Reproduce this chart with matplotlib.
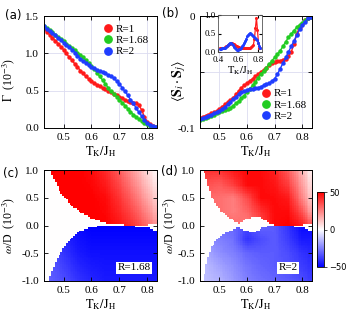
import numpy as np
import matplotlib
matplotlib.use("Agg")
from matplotlib import pyplot as plt

plt.rcParams['font.family'] = ['Liberation Serif', 'DejaVu Serif']
plt.rcParams['mathtext.fontset'] = 'stix'

# ---- data ----
t = [0.43, 0.44, 0.45, 0.46, 0.47, 0.48, 0.49, 0.50, 0.51, 0.52, 0.53, 0.54, 0.55, 0.56,
     0.57, 0.58, 0.59, 0.60, 0.61, 0.62, 0.63, 0.64, 0.65, 0.66, 0.67, 0.68, 0.69, 0.70,
     0.71, 0.72, 0.73, 0.74, 0.75, 0.76, 0.77, 0.78, 0.79, 0.80, 0.81, 0.82, 0.83]

# panel (a): Gamma (1e-3)
gam_r1 = [1.33, 1.29, 1.25, 1.21, 1.17, 1.13, 1.09, 1.05, 1.00, 0.95, 0.91, 0.86, 0.82, 0.77,
          0.73, 0.69, 0.66, 0.63, 0.60, 0.58, 0.56, 0.54, 0.52, 0.50, 0.48, 0.46, 0.44, 0.42,
          0.40, 0.38, 0.36, 0.35, 0.34, 0.34, 0.31, 0.24, 0.15, 0.08, 0.05, 0.03, 0.02]
gam_r168 = [1.37, 1.34, 1.31, 1.28, 1.25, 1.22, 1.19, 1.16, 1.13, 1.10, 1.07, 1.04, 1.01, 0.98,
            0.95, 0.91, 0.87, 0.83, 0.79, 0.74, 0.69, 0.64, 0.59, 0.54, 0.49, 0.46, 0.42, 0.38,
            0.34, 0.30, 0.26, 0.22, 0.18, 0.15, 0.12, 0.09, 0.07, 0.05, 0.03, 0.02, 0.01]
gam_r2 = [1.37, 1.33, 1.30, 1.27, 1.24, 1.21, 1.18, 1.14, 1.11, 1.08, 1.05, 1.01, 0.97, 0.93,
          0.90, 0.87, 0.84, 0.82, 0.80, 0.78, 0.76, 0.75, 0.73, 0.71, 0.69, 0.67, 0.63, 0.59,
          0.54, 0.49, 0.44, 0.38, 0.33, 0.27, 0.21, 0.16, 0.11, 0.07, 0.04, 0.03, 0.02]

# panel (b): <Si.Sj>
ss_r1 = [-0.091, -0.090, -0.089, -0.088, -0.087, -0.086, -0.085, -0.083, -0.081, -0.079,
         -0.077, -0.075, -0.073, -0.070, -0.067, -0.064, -0.062, -0.060, -0.058, -0.056,
         -0.054, -0.052, -0.050, -0.048, -0.046, -0.044, -0.042, -0.041, -0.040, -0.040,
         -0.039, -0.038, -0.036, -0.032, -0.025, -0.016, -0.010, -0.007, -0.004, -0.002, -0.001]
ss_r168 = [-0.093, -0.092, -0.091, -0.090, -0.089, -0.088, -0.087, -0.086, -0.085, -0.084,
           -0.083, -0.082, -0.080, -0.078, -0.076, -0.073, -0.071, -0.068, -0.065, -0.062,
           -0.059, -0.055, -0.052, -0.049, -0.046, -0.043, -0.040, -0.037, -0.034, -0.031,
           -0.027, -0.023, -0.019, -0.016, -0.013, -0.010, -0.008, -0.006, -0.004, -0.002, -0.001]
ss_r2 = [-0.092, -0.091, -0.090, -0.089, -0.088, -0.087, -0.086, -0.085, -0.083, -0.081,
         -0.079, -0.077, -0.074, -0.072, -0.070, -0.068, -0.067, -0.066, -0.065, -0.065,
         -0.064, -0.064, -0.063, -0.062, -0.061, -0.060, -0.058, -0.056, -0.052, -0.047,
         -0.042, -0.037, -0.032, -0.027, -0.022, -0.017, -0.012, -0.008, -0.005, -0.002, -0.001]

# inset of (b)
t_in = [0.42, 0.43, 0.44, 0.45, 0.46, 0.47, 0.48, 0.49, 0.50, 0.51, 0.52, 0.53, 0.54, 0.55,
        0.56, 0.57, 0.58, 0.59, 0.60, 0.61, 0.62, 0.63, 0.64, 0.65, 0.66, 0.67, 0.68, 0.69,
        0.70, 0.71, 0.72, 0.73, 0.74, 0.75, 0.76, 0.77, 0.78, 0.79, 0.80, 0.81, 0.82]
in_r1 = [0.10, 0.10, 0.10, 0.11, 0.12, 0.13, 0.15, 0.17, 0.19, 0.21, 0.22, 0.23, 0.23, 0.22,
         0.21, 0.19, 0.17, 0.15, 0.14, 0.13, 0.12, 0.12, 0.11, 0.11, 0.10, 0.10, 0.10, 0.10,
         0.10, 0.11, 0.12, 0.13, 0.15, 0.20, 0.35, 0.65, 0.92, 0.60, 0.25, 0.12, 0.10]
in_r2 = [0.08, 0.09, 0.10, 0.10, 0.11, 0.12, 0.14, 0.16, 0.19, 0.22, 0.25, 0.25, 0.22, 0.18,
         0.14, 0.11, 0.07, 0.06, 0.06, 0.07, 0.08, 0.12, 0.15, 0.19, 0.24, 0.30, 0.36, 0.42,
         0.47, 0.50, 0.51, 0.50, 0.47, 0.43, 0.40, 0.38, 0.36, 0.33, 0.25, 0.15, 0.10]

# heat maps: gap edges (omega/D, 1e-3) and colour levels on a coarse grid
c_edge_x = [0.43, 0.45, 0.47, 0.49, 0.52, 0.555, 0.60, 0.66, 0.73, 0.80, 0.84]
c_top = [1.3, 1.0, 0.78, 0.58, 0.40, 0.25, 0.13, 0.04, 0.01, 0.01, 0.05]
c_bot = [-1.3, -0.92, -0.66, -0.46, -0.25, -0.11, -0.02, -0.005, -0.005, -0.03, -0.11]

d_edge_x = [0.43, 0.44, 0.452, 0.47, 0.50, 0.536, 0.57, 0.59, 0.62, 0.637, 0.655, 0.68,
            0.70, 0.80, 0.84]
d_top = [1.3, 1.0, 0.82, 0.52, 0.28, 0.13, 0.04, 0.10, 0.16, 0.17, 0.13, 0.04, 0.01, 0.01, 0.05]
d_bot = [-1.3, -1.0, -0.62, -0.38, -0.20, -0.10, -0.03, -0.09, -0.14, -0.10, -0.04, -0.01,
         -0.005, -0.02, -0.12]

lev_x = [0.43, 0.5, 0.55, 0.6, 0.65, 0.7, 0.75, 0.8, 0.83]
c_red_y = [0.0, 0.5, 1.0]
c_red = [[50, 50, 50, 50, 50, 46, 40, 30, 22],
         [50, 50, 50, 50, 48, 40, 30, 18, 10],
         [50, 50, 50, 48, 42, 32, 20, 8, 2]]
c_blue_y = [-1.0, -0.5, 0.0]
c_blue = [[-30, -35, -40, -43, -45, -45, -45, -45, -45],
          [-30, -40, -45, -47, -47, -47, -47, -47, -47],
          [-40, -45, -48, -50, -50, -50, -50, -50, -50]]

d_red_y = [0.0, 0.25, 0.5, 0.75, 1.0]
d_red = [[30, 30, 30, 25, 35, 48, 50, 45, 35],
         [30, 28, 25, 30, 40, 48, 48, 35, 20],
         [30, 28, 25, 35, 48, 48, 45, 25, 12],
         [35, 32, 38, 48, 48, 46, 38, 20, 8],
         [40, 40, 45, 48, 48, 44, 32, 15, 4]]
d_blue_y = [-1.0, -0.75, -0.5, -0.25, 0.0]
d_blue = [[-12, -15, -20, -25, -28, -30, -32, -35, -38],
          [-12, -18, -22, -27, -30, -32, -34, -38, -40],
          [-15, -22, -25, -30, -32, -32, -35, -40, -42],
          [-20, -25, -28, -40, -35, -32, -38, -45, -45],
          [-25, -28, -30, -35, -30, -32, -40, -48, -48]]

labels = ['R=1', 'R=1.68', 'R=2']
colors = ['#ff1a1a', '#22cc22', '#1f3dff']


def grid_levels(gx, gy, vals, xs, ys):
    rows = np.array([np.interp(xs, gx, r) for r in vals])
    return np.array([np.interp(ys, gy, rows[:, j]) for j in range(len(xs))]).T


def spectral_map(edge_x, top, bot, red_y, red, blue_y, blue):
    xs = np.linspace(0.43, 0.835, 62)
    ys = np.linspace(-1.0, 1.0, 64)
    up = grid_levels(lev_x, red_y, red, xs, ys)
    dn = grid_levels(lev_x, blue_y, blue, xs, ys)
    tp = np.interp(xs, edge_x, top)[None, :]
    bt = np.interp(xs, edge_x, bot)[None, :]
    Y = ys[:, None]
    return np.where(Y >= tp, up, np.where(Y <= bt, dn, 0.0))


fig = plt.figure(figsize=(3.5, 3.27), dpi=100)
W, H = 350.0, 327.0


def box(l, t_, r, b):
    return [l / W, 1 - b / H, (r - l) / W, (b - t_) / H]


ax_a = fig.add_axes(box(44, 16, 157, 128))
ax_b = fig.add_axes(box(200, 16, 312, 128))
ax_c = fig.add_axes(box(44, 170, 157, 281))
ax_d = fig.add_axes(box(200, 170, 312, 281))
ax_in = fig.add_axes(box(218, 15, 262, 52))
cax = fig.add_axes(box(317, 192, 324, 267))

xl = r'$\mathrm{T_K/J_H}$'

for ax in (ax_a, ax_b, ax_c, ax_d):
    ax.set_xlim(0.43, 0.835)
    ax.set_xticks([0.5, 0.6, 0.7, 0.8])
    ax.tick_params(direction='in', top=True, right=True, labelsize=8, length=3, width=0.6)
    ax.set_xlabel(xl, fontsize=9, labelpad=2)
    for s in ax.spines.values():
        s.set_linewidth(0.7)

# (a)
for y, c, lab in zip([gam_r1, gam_r168, gam_r2], colors, labels):
    ax_a.plot(t, y, '-o', color=c, ms=2.2, lw=1.0, label=lab)
ax_a.set_ylim(0, 1.5)
ax_a.set_yticks([0.0, 0.5, 1.0, 1.5])
ax_a.set_yticklabels(['0.0', '0.5', '1.0', '1.5'])
ax_a.grid(True, color='#dcdcf0', lw=0.6)
ax_a.set_ylabel(r'$\Gamma$  (10$^{-3}$)', fontsize=8.5)
ax_a.yaxis.set_label_coords(-0.24, 0.43)
leg = ax_a.legend(loc='upper right', frameon=False, fontsize=8, markerscale=2.4,
                  handlelength=0.6, handletextpad=0.4, labelspacing=0.15, borderaxespad=0.3)
for h in leg.legend_handles:
    h.set_linestyle('none')

# (b)
for y, c, lab in zip([ss_r1, ss_r168, ss_r2], colors, labels):
    ax_b.plot(t, y, '-o', color=c, ms=2.2, lw=1.0, label=lab)
ax_b.set_ylim(-0.1, 0)
ax_b.set_yticks([-0.1, -0.05, 0])
ax_b.set_yticklabels(['-0.1', '', '0'])
ax_b.grid(True, color='#dcdcf0', lw=0.6)
ax_b.set_ylabel(r'$\langle \mathbf{S}_i \cdot \mathbf{S}_j \rangle$', fontsize=10)
ax_b.yaxis.set_label_coords(-0.11, 0.42)
leg = ax_b.legend(loc='lower right', frameon=False, fontsize=8, markerscale=2.4,
                  handlelength=0.6, handletextpad=0.4, labelspacing=0.15,
                  borderaxespad=0.1, bbox_to_anchor=(1.0, 0.01))
for h in leg.legend_handles:
    h.set_linestyle('none')

# inset
ax_in.plot(t_in, in_r1, '-o', color=colors[0], ms=1.2, lw=0.9)
ax_in.plot(t_in, in_r2, '-o', color=colors[2], ms=1.2, lw=0.9)
ax_in.set_xlim(0.4, 0.835)
ax_in.set_ylim(0, 1.0)
ax_in.set_xticks([0.4, 0.6, 0.8])
ax_in.set_yticks([0.0, 0.5, 1.0])
ax_in.set_yticklabels(['0.0', '0.5', '1.0'])
ax_in.tick_params(direction='in', top=True, right=True, labelsize=6.5, length=2, pad=1.5)
ax_in.tick_params(axis='x', pad=3)
ax_in.set_xlabel(xl, fontsize=7.5, labelpad=0)
for s in ax_in.spines.values():
    s.set_linewidth(0.6)
    s.set_color('#555555')

# (c), (d)
img_c = spectral_map(c_edge_x, c_top, c_bot, c_red_y, c_red, c_blue_y, c_blue)
img_d = spectral_map(d_edge_x, d_top, d_bot, d_red_y, d_red, d_blue_y, d_blue)
for ax, img, tag, pos in ((ax_c, img_c, 'R=1.68', 0.752), (ax_d, img_d, 'R=2', 0.748)):
    im = ax.imshow(img, cmap='bwr', vmin=-50, vmax=50, origin='lower', aspect='auto',
                   extent=[0.43, 0.835, -1.0, 1.0], interpolation='nearest')
    ax.set_ylim(-1.0, 1.0)
    ax.set_yticks([-1.0, -0.5, 0.0, 0.5, 1.0])
    ax.set_yticklabels(['-1.0', '-0.5', '0.0', '0.5', '1.0'])
    ax.set_ylabel(r'$\omega$/D  (10$^{-3}$)', fontsize=8.5)
    ax.text(pos, -0.76, tag, fontsize=8, ha='center', va='center',
            bbox=dict(facecolor='white', edgecolor='none', pad=1.2))
ax_c.yaxis.set_label_coords(-0.24, 0.5)
ax_d.yaxis.set_label_coords(-0.2, 0.5)

cb = fig.colorbar(im, cax=cax, ticks=[-50, 0, 50])
cb.ax.tick_params(labelsize=6, length=2, width=0.5, pad=2)
for lab in cb.ax.get_yticklabels():
    lab.set_family('DejaVu Sans')
cb.outline.set_linewidth(0.6)

for txt, x, y in (('(a)', 5, 15), ('(b)', 162, 14), ('(c)', 3, 173), ('(d)', 161, 171)):
    fig.text(x / W, 1 - y / H, txt, fontsize=8.5, family='DejaVu Sans', va='center')

fig.savefig('out.png', dpi=100)
